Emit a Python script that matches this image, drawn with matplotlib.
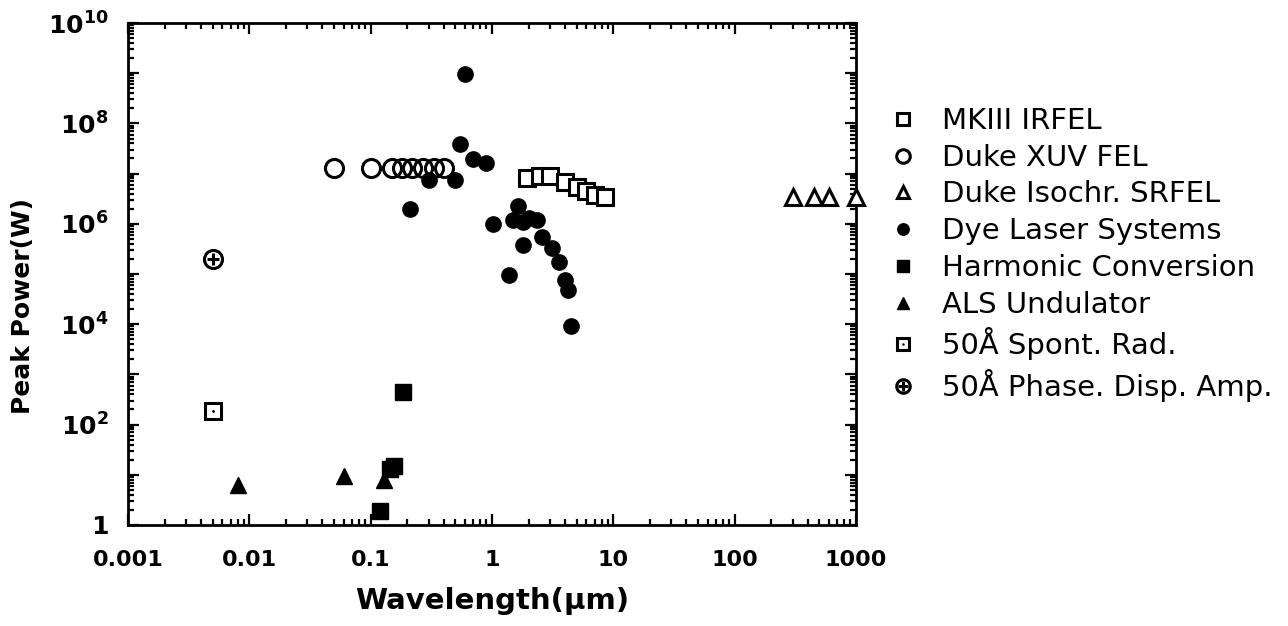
import math
import matplotlib
matplotlib.use("Agg")
import matplotlib.pyplot as plt
from matplotlib.ticker import LogLocator, FuncFormatter, NullFormatter, FixedLocator

# ---- data ----
mkiii_x = [1.95, 2.5, 3.0, 4.0, 5.0, 6.0, 7.0, 8.5]
mkiii_y = [8.0e6, 8.8e6, 8.8e6, 6.8e6, 5.3e6, 4.4e6, 3.8e6, 3.4e6]

xuv_x = [0.05, 0.1, 0.15, 0.18, 0.22, 0.27, 0.33, 0.4]
xuv_y = [1.3e7, 1.3e7, 1.3e7, 1.3e7, 1.3e7, 1.3e7, 1.3e7, 1.3e7]

srfel_x = [300, 450, 600, 1000]
srfel_y = [3.4e6, 3.4e6, 3.4e6, 3.4e6]

dye_x = [0.6, 0.55, 0.7, 0.9, 0.5, 0.3, 0.21, 1.02, 1.38, 1.64, 1.5, 1.8,
         2.35, 1.8, 2.6, 3.1, 3.6, 4.0, 4.25, 4.5, 2.0]
dye_y = [9.6e8, 3.9e7, 1.95e7, 1.65e7, 7.4e6, 7.4e6, 1.96e6, 1.0e6, 9.5e4,
         2.3e6, 1.2e6, 1.1e6, 1.2e6, 3.8e5, 5.5e5, 3.3e5, 1.7e5, 7.6e4,
         4.8e4, 9.2e3, 1.3e6]

harm_x = [0.12, 0.145, 0.155, 0.185]
harm_y = [1.9, 13, 15, 450]

als_x = [0.008, 0.06, 0.13]
als_y = [6.3, 9.5, 7.9]

spont_x = [0.005]
spont_y = [190]

phase_x = [0.005]
phase_y = [2.0e5]

labels = ["MKIII IRFEL", "Duke XUV FEL", "Duke Isochr. SRFEL",
          "Dye Laser Systems", "Harmonic Conversion", "ALS Undulator",
          "50Å Spont. Rad.", "50Å Phase. Disp. Amp."]

xticks = [0.001, 0.01, 0.1, 1, 10, 100, 1000]
xticklabels = ["0.001", "0.01", "0.1", "1", "10", "100", "1000"]

# ---- figure ----
W, H = 1288, 626
fig = plt.figure(figsize=(W / 100, H / 100), dpi=100)
ax = fig.add_axes([128 / W, 1 - 525 / H, (856 - 128) / W, (525 - 23) / H])
ax.set_xscale("log")
ax.set_yscale("log")
ax.set_xlim(0.001, 1000)
ax.set_ylim(1, 1e10)

k = "black"
h1, = ax.plot(mkiii_x, mkiii_y, ls="none", marker="s", ms=11, mfc="white", mec=k, mew=2.2, clip_on=False)
h2, = ax.plot(xuv_x, xuv_y, ls="none", marker="o", ms=13, mfc="none", mec=k, mew=2.2, clip_on=False)
h3, = ax.plot(srfel_x, srfel_y, ls="none", marker="^", ms=11, mfc="white", mec=k, mew=2.2, clip_on=False, zorder=5)
h4, = ax.plot(dye_x, dye_y, ls="none", marker="o", ms=11, mfc=k, mec=k, clip_on=False)
h5, = ax.plot(harm_x, harm_y, ls="none", marker="s", ms=12, mfc=k, mec=k, clip_on=False)
h6, = ax.plot(als_x, als_y, ls="none", marker="^", ms=12, mfc=k, mec=k, clip_on=False)
h7a, = ax.plot(spont_x, spont_y, ls="none", marker="s", ms=12, mfc="white", mec=k, mew=2.2)
h7b, = ax.plot(spont_x, spont_y, ls="none", marker=".", ms=2, mfc=k, mec=k)
h8a, = ax.plot(phase_x, phase_y, ls="none", marker="o", ms=13, mfc="white", mec=k, mew=2.2)
h8b, = ax.plot(phase_x, phase_y, ls="none", marker="+", ms=9, mec=k, mew=2.2)

# ---- axes styling ----
for s in ax.spines.values():
    s.set_linewidth(2)

ax.xaxis.set_major_locator(FixedLocator(xticks))
ax.set_xticklabels(xticklabels)
ax.xaxis.set_minor_locator(LogLocator(base=10, subs=range(2, 10), numticks=20))
ax.xaxis.set_minor_formatter(NullFormatter())

ax.yaxis.set_major_locator(LogLocator(base=10, numticks=20))
ax.yaxis.set_minor_locator(LogLocator(base=10, subs=range(2, 10), numticks=20))
ax.yaxis.set_minor_formatter(NullFormatter())


def yfmt(v, pos):
    e = int(round(math.log10(v)))
    if e % 2:
        return ""
    if e == 0:
        return "1"
    return r"$\mathbf{10^{%d}}$" % e


ax.yaxis.set_major_formatter(FuncFormatter(yfmt))

ax.tick_params(which="both", direction="in", top=True, right=True, width=1.6)
ax.tick_params(which="major", length=8)
ax.tick_params(which="minor", length=4)
ax.tick_params(axis="x", which="major", pad=18, labelsize=16)
ax.tick_params(axis="y", which="major", pad=14, labelsize=18)
for t in ax.get_xticklabels() + ax.get_yticklabels():
    t.set_fontweight("bold")

ax.set_xlabel("Wavelength(µm)", fontsize=21, fontweight="bold")
ax.xaxis.set_label_coords(0.5, -(601 - 525) / (525 - 23), transform=ax.transAxes)
ax.xaxis.label.set_va("center")
ax.set_ylabel("Peak Power(W)", fontsize=18, fontweight="bold")
ax.yaxis.set_label_coords(-(128 - 23) / (856 - 128), (525 - 306) / (525 - 23), transform=ax.transAxes)
ax.yaxis.label.set_va("center")

handles = [h1, h2, h3, h4, h5, h6, (h7a, h7b), (h8a, h8b)]
leg = fig.legend(handles, labels, loc="upper left",
                 bbox_to_anchor=(888 / W, 1 - 107 / H),
                 frameon=False, fontsize=21, markerscale=0.75,
                 handlelength=1.0, handletextpad=0.86, labelspacing=0.3,
                 borderaxespad=0, borderpad=0)

fig.savefig("out.png", dpi=100)
